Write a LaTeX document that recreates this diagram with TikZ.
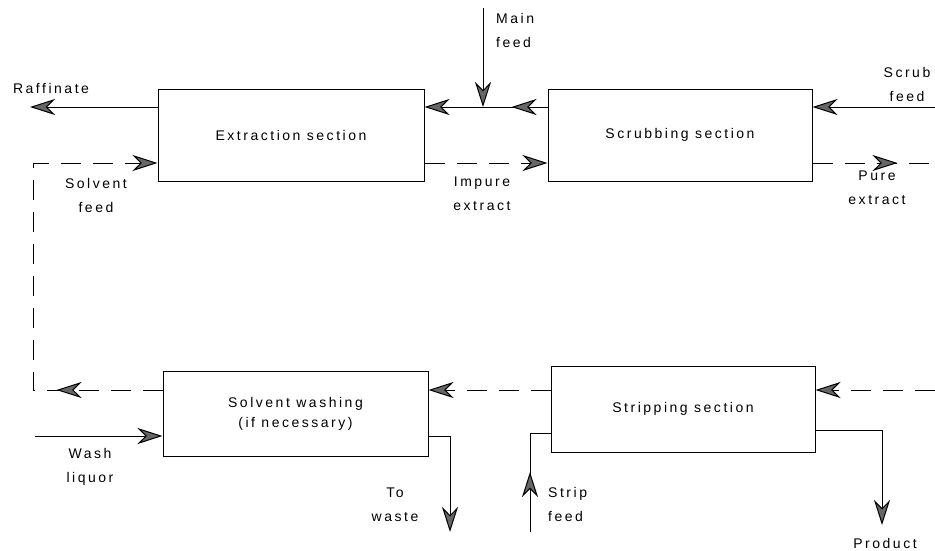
\documentclass[tikz,border=0pt]{standalone}
\usepackage{fontspec}
\setmainfont{Liberation Sans}[LetterSpace=18]
\usetikzlibrary{arrows.meta, decorations.markings}

\tikzset{
    stage/.style={draw=black, line width=1pt, minimum width=265pt, minimum height=88pt, inner sep=0pt, align=center, font=\fontsize{14}{20}\selectfont},
    stream/.style={draw=black, line width=1pt},
    solvent/.style={stream, dash pattern=on 20pt off 12pt},
    head/.style={-{Stealth[length=25pt, width=16pt, inset=8pt, fill=black!60]}},
    headat/.style={postaction={decorate}, decoration={markings, mark=at position #1 with {\arrow{Stealth[length=25pt, width=16pt, inset=8pt, fill=black!60]}}}},
    tag/.style={align=center, inner sep=0pt, font=\fontsize{14}{24}\selectfont}
}

\begin{document}
\begin{tikzpicture}[x=1pt, y=-1pt]
        \useasboundingbox (0, 0) rectangle (935, 550);
        \node (extraction) at (291, 135) [stage, minimum width=266pt, minimum height=92pt] {Extraction section};
        \node (scrubbing) at (680, 135) [stage, minimum width=264pt, minimum height=92pt] {Scrubbing section};
        \node (washing) at (295.5, 413.5) [stage, minimum height=85pt] {Solvent washing\\(if necessary)};
        \node (stripping) at (683, 409) [stage, minimum width=264pt, minimum height=86pt] {Stripping section};

        \coordinate (raffinate) at (30, 107);
        \coordinate (junction) at (483, 107);
        \coordinate (mainin) at (483, 8);
        \coordinate (scrubin) at (935, 107);
        \coordinate (pureout) at (935, 163);
        \coordinate (corner) at (33, 163);
        \coordinate (loopbottom) at (33, 390);
        \coordinate (recyclein) at (935, 390);
        \coordinate (washin) at (35, 436);
        \coordinate (wastebend) at (450, 436);
        \coordinate (wasteout) at (450, 532);
        \coordinate (stripbend) at (530, 433);
        \coordinate (stripin) at (530, 532);
        \coordinate (productbend) at (882, 430);
        \coordinate (productout) at (882, 525);

        \draw[stream, head] (extraction.west |- raffinate) -- (raffinate);
        \draw[stream, head] (mainin) -- (junction);
        \draw[stream, head, headat=36pt] (scrubbing.west |- junction) -- (extraction.east |- junction);
        \draw[stream, head] (scrubin) -- (scrubbing.east |- scrubin);
        \draw[solvent, head] (extraction.east |- corner) -- (scrubbing.west |- corner);
        \draw[solvent, headat=85pt] (scrubbing.east |- pureout) -- (pureout);
        \draw[solvent, head, headat=106pt] (washing.west |- loopbottom) -- (loopbottom) -- (corner) -- (extraction.west |- corner);
        \draw[solvent, head] (recyclein) -- (stripping.east |- recyclein);
        \draw[solvent, head] (stripping.west |- recyclein) -- (washing.east |- recyclein);
        \draw[stream, head] (washin) -- (washing.west |- washin);
        \draw[stream, head] (washing.east |- wastebend) -- (wastebend) -- (wasteout);
        \draw[stream, headat=60pt] (stripin) -- (stripbend) -- (stripping.west |- stripbend);
        \draw[stream, head] (stripping.east |- productbend) -- (productbend) -- (productout);

        \path (raffinate) + (21, -19) node[tag] (raffinatetext) {Raffinate};
        \path (corner) + (63, 32) node[tag] (solventtext) {Solvent\\feed};
        \path (mainin) + (13, 22) node[tag, anchor=west, align=left] (maintext) {Main\\feed};
        \path (junction) + (-1, 87) node[tag] (impuretext) {Impure\\extract};
        \path (scrubin) + (-28, -23) node[tag] (scrubtext) {Scrub\\feed};
        \path (pureout) + (-58, 25) node[tag] (puretext) {Pure\\extract};
        \path (washin) + (55, 31) node[tag] (washtext) {Wash\\liquor};
        \path (wasteout) + (-55, -27) node[tag] (wastetext) {To\\waste};
        \path (stripin) + (18, -28) node[tag, anchor=west, align=left] (striptext) {Strip\\feed};
        \path (productout) + (3, 18) node[tag] (producttext) {Product};
\end{tikzpicture}
\end{document}
